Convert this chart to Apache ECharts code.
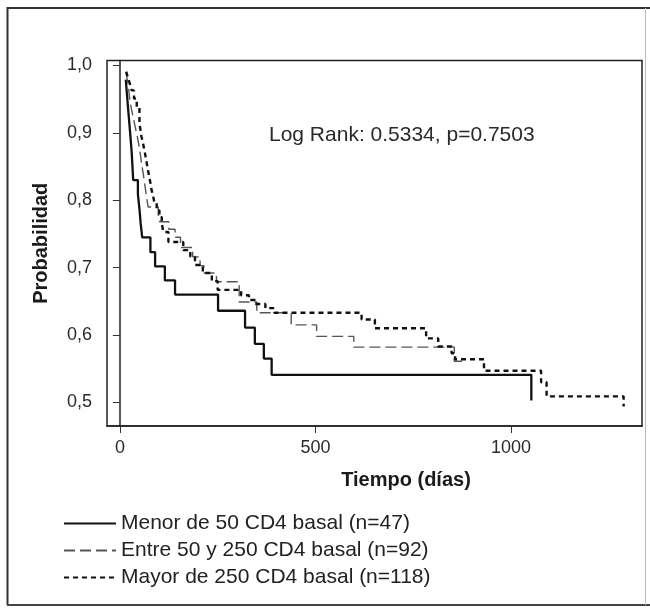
<!DOCTYPE html>
<html>
<head>
<meta charset="utf-8">
<script src="https://cdn.jsdelivr.net/npm/echarts@6/dist/echarts.min.js"></script>
<style>
html,body{margin:0;padding:0;background:#fff;}
#chart{width:650px;height:610px;}
</style>
</head>
<body>
<div id="chart"></div>
<script>
// ---- Data ----
const seriesNames = [
  'Menor de 50 CD4 basal (n=47)',
  'Entre 50 y 250 CD4 basal (n=92)',
  'Mayor de 250 CD4 basal (n=118)'
];
// Kaplan-Meier step points: time (days) and survival after each step
const menorTimes = [15, 18, 21, 24, 27, 30, 32, 34, 46, 50, 53, 57, 78, 90, 115, 141, 251, 320, 345, 368, 388, 1052];
const menorValues = [0.979, 0.957, 0.936, 0.915, 0.894, 0.872, 0.851, 0.830, 0.809, 0.787, 0.766, 0.745, 0.723, 0.702, 0.681, 0.660, 0.636, 0.611, 0.587, 0.565, 0.541, 0.503];

const entreTimes = [16, 19, 22, 24, 26, 30, 34, 38, 42, 46, 51, 55, 60, 64, 68, 72, 98, 102, 125, 141, 155, 186, 205, 215, 247, 305, 350, 438, 503, 598, 855, 875];
const entreValues = [0.989, 0.978, 0.967, 0.956, 0.945, 0.934, 0.923, 0.912, 0.901, 0.890, 0.874, 0.856, 0.838, 0.822, 0.805, 0.790, 0.779, 0.768, 0.757, 0.745, 0.730, 0.716, 0.703, 0.692, 0.679, 0.649, 0.633, 0.615, 0.598, 0.582, 0.561, 0.561];

const mayorTimes = [16, 20, 25, 30, 36, 43, 50, 55, 60, 64, 68, 72, 77, 81, 85, 88, 94, 101, 107, 111, 124, 162, 180, 192, 212, 235, 250, 310, 330, 345, 372, 395, 618, 652, 783, 814, 848, 857, 931, 1077, 1091, 1288];
const mayorValues = [0.991, 0.983, 0.974, 0.963, 0.951, 0.938, 0.914, 0.895, 0.882, 0.870, 0.857, 0.844, 0.829, 0.815, 0.806, 0.797, 0.785, 0.775, 0.766, 0.753, 0.738, 0.726, 0.716, 0.704, 0.692, 0.680, 0.667, 0.659, 0.652, 0.646, 0.640, 0.633, 0.623, 0.610, 0.595, 0.583, 0.573, 0.564, 0.547, 0.530, 0.509, 0.494];

const xTickValues = [0, 500, 1000];
const xTickLabels = ['0', '500', '1000'];
const yTickValues = [0.5, 0.6, 0.7, 0.8, 0.9, 1.0];
const yTickLabels = ['0,5', '0,6', '0,7', '0,8', '0,9', '1,0'];
const xAxisTitle = 'Tiempo (días)';
const yAxisTitle = 'Probabilidad';
const annotation = 'Log Rank: 0.5334, p=0.7503';

// ---- Build ----
function pairs(t, v) { return t.map((x, i) => [x, v[i]]); }
function labelFor(values, labels) {
  return function (v) {
    const i = values.findIndex(t => Math.abs(t - v) < 1e-6);
    return i >= 0 ? labels[i] : '';
  };
}
const FONT = 'Liberation Sans, Arial, sans-serif';
const chart = echarts.init(document.getElementById('chart'), null, {renderer: 'canvas'});

const option = {
  backgroundColor: '#ffffff',
  animation: false,
  grid: {
    left: 107, right: 8, top: 60.5, bottom: 184,
    show: true, borderColor: '#222', borderWidth: 1.5, backgroundColor: 'transparent'
  },
  xAxis: {
    type: 'value', min: -33, max: 1335,
    axisLine: {show: true, lineStyle: {color: '#222', width: 1.5}},
    axisTick: {show: true, customValues: xTickValues, length: 7, lineStyle: {color: '#333', width: 1}},
    axisLabel: {customValues: xTickValues, margin: 13, fontSize: 18, fontFamily: FONT, color: '#2a2a2a',
                formatter: labelFor(xTickValues, xTickLabels)},
    splitLine: {show: false}
  },
  yAxis: {
    type: 'value', min: 0.465, max: 1.0074,
    name: yAxisTitle, nameLocation: 'middle', nameGap: 56,
    nameTextStyle: {fontSize: 20, fontWeight: 'bold', fontFamily: FONT, color: '#1a1a1a'},
    axisLine: {show: true, lineStyle: {color: '#222', width: 1.5}},
    axisTick: {show: true, customValues: yTickValues, length: 7, lineStyle: {color: '#333', width: 1}},
    axisLabel: {
      customValues: yTickValues, margin: 15, fontSize: 18, fontFamily: FONT, color: '#2a2a2a',
      formatter: labelFor(yTickValues, yTickLabels)
    },
    splitLine: {show: false}
  },
  legend: {
    orient: 'vertical', left: 58, top: 508,
    itemWidth: 52, itemHeight: 20, itemGap: 6,
    itemStyle: {opacity: 0, borderWidth: 0},
    textStyle: {fontSize: 21, fontFamily: FONT, color: '#222'},
    data: seriesNames
  },
  series: [
    {
      name: seriesNames[0], type: 'line', step: 'end', symbol: 'none',
      data: pairs(menorTimes, menorValues),
      lineStyle: {color: '#111', width: 2.3, type: 'solid'}, itemStyle: {color: '#111'}
    },
    {
      name: seriesNames[1], type: 'line', step: 'end', symbol: 'none',
      data: pairs(entreTimes, entreValues),
      lineStyle: {color: '#555', width: 1.4, type: [11, 5]}, itemStyle: {color: '#555'}
    },
    {
      name: seriesNames[2], type: 'line', step: 'end', symbol: 'none',
      data: pairs(mayorTimes, mayorValues),
      lineStyle: {color: '#111', width: 2.4, type: [5, 4]}, itemStyle: {color: '#111'}
    }
  ],
  graphic: [
    {type: 'line', shape: {x1: 7.5, y1: 7, x2: 7.5, y2: 605}, style: {stroke: '#333', lineWidth: 2}, silent: true},
    {type: 'line', shape: {x1: 7, y1: 8, x2: 650, y2: 8}, style: {stroke: '#333', lineWidth: 2}, silent: true},
    {type: 'line', shape: {x1: 7, y1: 605, x2: 650, y2: 605}, style: {stroke: '#444', lineWidth: 2}, silent: true},
    {type: 'line', shape: {x1: 645.5, y1: 8, x2: 645.5, y2: 605}, style: {stroke: '#bbb', lineWidth: 1}, silent: true},
    {type: 'text', left: 269, top: 125,
     style: {text: annotation, fontSize: 21, fontFamily: FONT, fill: '#2a2a2a'}},
    {type: 'text', x: 406, y: 480,
     style: {text: xAxisTitle, fontSize: 20, fontWeight: 'bold', fontFamily: FONT, fill: '#1a1a1a',
             align: 'center', verticalAlign: 'middle'}}
  ]
};
chart.setOption(option);
</script>
</body>
</html>
